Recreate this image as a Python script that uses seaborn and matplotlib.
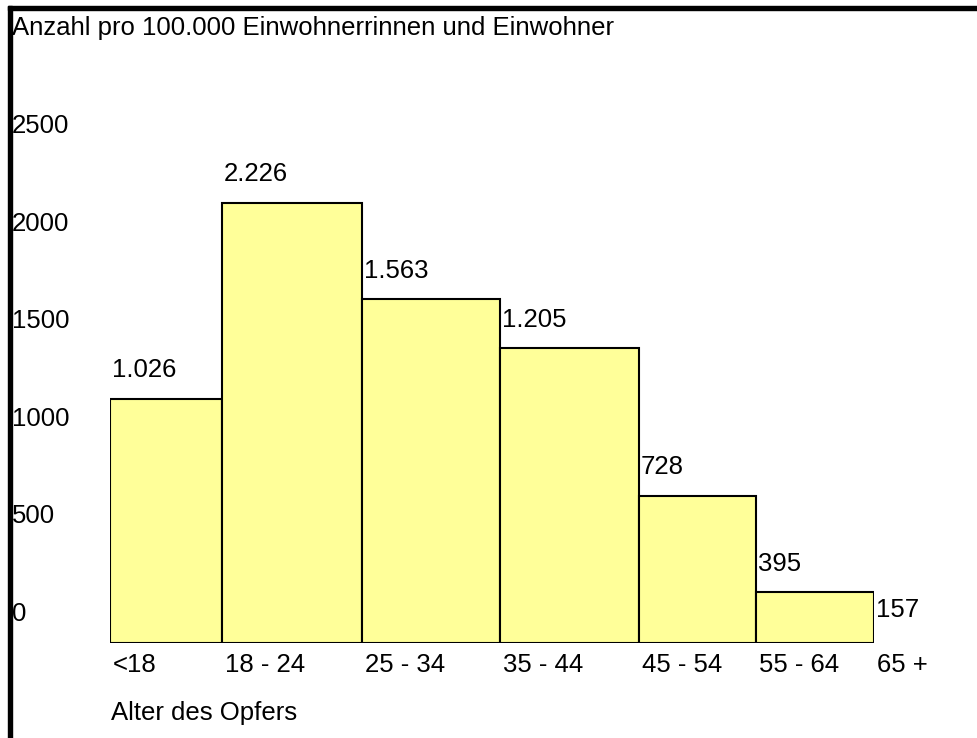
import matplotlib
matplotlib.use('Agg')
import matplotlib.pyplot as plt
from matplotlib.patches import Rectangle
import numpy as np
import pandas as pd
import seaborn as sns

# values
age_groups = ['<18', '18 - 24', '25 - 34', '35 - 44', '45 - 54', '55 - 64', '65 +']
bin_widths = [112, 140, 138, 139, 117, 118, 0]
bar_heights = [1250, 2255, 1760, 1510, 755, 260, 25]
value_labels = ['1.026', '2.226', '1.563', '1.205', '728', '395', '157']
y_ticks = [0, 500, 1000, 1500, 2000, 2500]


def main():
    sns.set_style('white')
    plt.rcParams['font.family'] = ['Liberation Sans', 'DejaVu Sans']
    plt.rcParams['text.color'] = 'black'
    fs = 18.5

    W, H = 978, 738
    fig = plt.figure(figsize=(W / 100, H / 100), dpi=100)
    ax = fig.add_axes([110 / W, 95 / H, 764 / W, 488 / H])

    edges = np.concatenate([[0], np.cumsum(bin_widths)])
    n_bars = 6
    df = pd.DataFrame({
        'pos': (edges[:n_bars] + edges[1:n_bars + 1]) / 2,
        'rate': bar_heights[:n_bars],
    })

    sns.histplot(data=df, x='pos', weights='rate',
                 bins=[float(e) for e in edges[:n_bars + 1]],
                 color='#FFFF99', edgecolor='black', linewidth=1.5, alpha=1,
                 ax=ax)

    ax.set_xlim(0, edges[-1])
    ax.set_ylim(0, 2500)
    ax.set_xticks([])
    ax.set_yticks([])
    ax.set_xlabel('')
    ax.set_ylabel('')
    for s in ax.spines.values():
        s.set_visible(False)
    ax.patch.set_visible(False)

    # value labels above bars
    for i, lbl in enumerate(value_labels):
        ax.annotate(lbl, xy=(edges[i], bar_heights[i]), xytext=(1.5, 15.5),
                    textcoords='offset points', ha='left', va='baseline',
                    fontsize=fs, color='black', annotation_clip=False)

    # category labels under left bin edges
    for i, lbl in enumerate(age_groups):
        ax.annotate(lbl, xy=(edges[i], 0), xytext=(2, -20.9),
                    textcoords='offset points', ha='left', va='baseline',
                    fontsize=fs, color='black', annotation_clip=False)

    # y values at the left border
    for v in y_ticks:
        ax.annotate(str(v), xy=(12 / W, v), xycoords=('figure fraction', 'data'),
                    xytext=(0, 15.8), textcoords='offset points',
                    ha='left', va='baseline', fontsize=fs, color='black',
                    annotation_clip=False)

    fig.text(12 / W, 1 - 35 / H, 'Anzahl pro 100.000 Einwohnerrinnen und Einwohner',
             ha='left', va='baseline', fontsize=fs, color='black')
    fig.text(111 / W, 1 - 720 / H, 'Alter des Opfers',
             ha='left', va='baseline', fontsize=fs, color='black')

    # thick frame on the left and top
    fig.patches.append(Rectangle((8 / W, 0), 4 / W, 1 - 6 / H, color='black',
                                 transform=fig.transFigure, figure=fig))
    fig.patches.append(Rectangle((8 / W, 1 - 10 / H), 1, 4 / H, color='black',
                                 transform=fig.transFigure, figure=fig))

    fig.savefig('out.png', dpi=100, facecolor='white')


if __name__ == '__main__':
    main()
